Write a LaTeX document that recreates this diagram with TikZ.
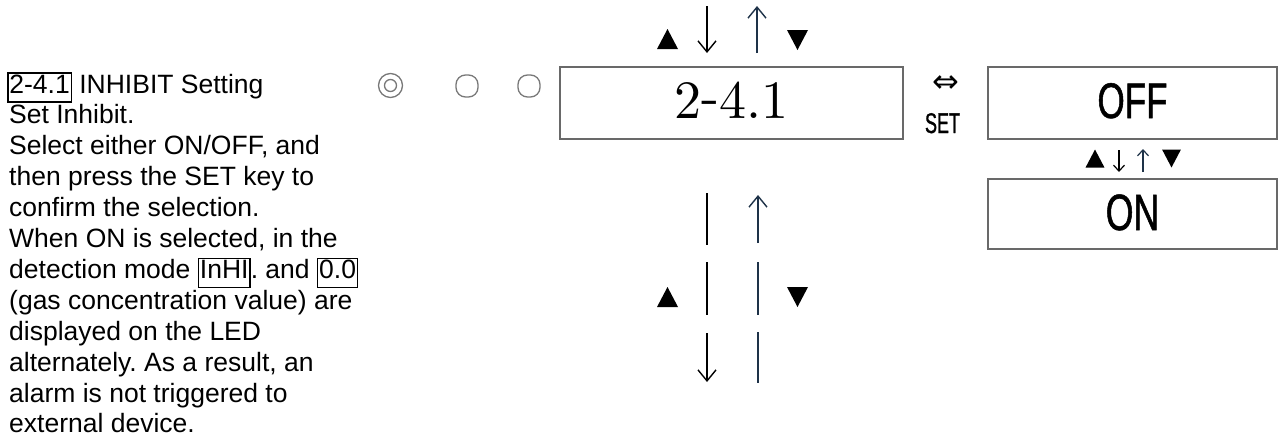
\documentclass[tikz,border=0pt]{standalone}
\usepackage{fontspec}
\usetikzlibrary{arrows.meta}
\newfontfamily\arialf{Liberation Sans}
\newfontfamily\condf[FakeStretch=0.70,FakeBold=1]{Liberation Sans}
\newfontfamily\condsf[FakeStretch=0.63,FakeBold=1]{Liberation Sans}
\newfontfamily\djv{DejaVu Sans}
\newfontfamily\lmten{lmroman10-regular.otf}
\newcommand\bxd[1]{{\setlength\fboxsep{0.8pt}\setlength\fboxrule{1.4pt}\fbox{\rule[-7.5pt]{0pt}{23.5pt}#1}}}
\frenchspacing
\definecolor{boxgray}{RGB}{105,105,105}
\definecolor{lampgray}{RGB}{120,120,120}
\definecolor{upblue}{RGB}{30,50,72}
\tikzset{
  ltext/.style={font=\arialf\fontsize{26.5}{31}\selectfont, inner sep=0pt, anchor=base west},
  disp/.style={draw=boxgray, line width=1.8pt, rectangle, inner sep=0pt},
  lamp/.style={draw=lampgray, line width=1.3pt},
  vline/.style={line width=1.4pt, draw=black},
  uline/.style={line width=1.4pt, draw=upblue},
  downar/.style={vline, -{Straight Barb[length=11pt,width=18pt]}},
  upar/.style={uline, -{Straight Barb[length=11pt,width=18pt]}},
  sdownar/.style={vline, line width=1.2pt, -{Straight Barb[length=6pt,width=11pt]}},
  suparr/.style={uline, line width=1.2pt, -{Straight Barb[length=6pt,width=11pt]}},
  tup/.pic={\fill[black] (-10.5,10) -- (10.5,10) -- (0,-10) -- cycle;},
  tdown/.pic={\fill[black] (-10.5,-10) -- (10.5,-10) -- (0,10) -- cycle;}
}
\begin{document}
\begin{tikzpicture}[x=1pt,y=-1pt]
\useasboundingbox (0,0) rectangle (1285,439);
% left description
\node[ltext] (t1) at (7,93) {\bxd{2-4.1} INHIBIT Setting};
\node[ltext] (t2) at (9,123.9) {Set Inhibit.};
\node[ltext] (t3) at (9,154.8) {Select either ON/OFF, and};
\node[ltext] (t4) at (9,185.7) {then press the SET key to};
\node[ltext] (t5) at (9,216.6) {confirm the selection.};
\node[ltext] (t6) at (9,247.5) {When ON is selected, in the};
\node[ltext] (t7) at (9,278.4) {detection mode \bxd{InHI}. and \bxd{0.0}};
\node[ltext] (t8) at (9,309.3) {(gas concentration value) are};
\node[ltext] (t9) at (9,340.2) {displayed on the LED};
\node[ltext] (t10) at (9,371.1) {alternately. As a result, an};
\node[ltext] (t11) at (9,402) {alarm is not triggered to};
\node[ltext] (t12) at (9,432.9) {external device.};
% lamps
\draw[lamp] (390.5,85.5) circle (12);
\draw[lamp] (390.5,85.5) circle (6);
\draw[lamp, rounded corners=9.5pt] (456,75) rectangle (478,97);
\draw[lamp, rounded corners=9.5pt] (518,75) rectangle (540,97);
% displays
\node[disp, minimum width=343, minimum height=72, text height=35pt, text depth=4pt,
      font=\lmten\fontsize{54}{60}\selectfont] (b1) at (731.5,102.75) {2\raisebox{4pt}{-}4.1};
\node[disp, minimum width=289, minimum height=72, text height=36pt, text depth=6pt,
      font=\condf\fontsize{50}{56}\selectfont] (b2) at (1132.5,103) {OFF};
\node[disp, minimum width=289, minimum height=70, text height=37pt, text depth=5pt,
      font=\condf\fontsize{51}{56}\selectfont] (b3) at (1132.5,214) {ON};
% SET
\node[font=\djv\fontsize{32}{36}\selectfont, inner sep=0pt] (eq) at (945.5,84) {⇔};
\node[font=\condsf\fontsize{28.5}{32}\selectfont, inner sep=0pt, anchor=base] (set) at (942.5,133) {SET};
% top arrows
\pic (u1) at (667.5,39) {tup};
\pic (d1) at (797.5,40) {tdown};
\coordinate (a1s) at (707,6); \coordinate (a1e) at (707,53);
\coordinate (a2s) at (757,53); \coordinate (a2e) at (757,6);
\draw[downar] (a1s) -- (a1e);
\draw[upar] (a2s) -- (a2e);
% small arrows between OFF and ON
\pic[scale=0.9] (u2) at (1095,158.5) {tup};
\pic[scale=0.9] (d2) at (1171.5,158.5) {tdown};
\coordinate (s1s) at (1119,150); \coordinate (s1e) at (1119,172);
\coordinate (s2s) at (1143,172); \coordinate (s2e) at (1143,149);
\draw[sdownar] (s1s) -- (s1e);
\draw[suparr] (s2s) -- (s2e);
% lower arrows
\pic (u3) at (667.5,297) {tup};
\pic (d3) at (797.5,297) {tdown};
\coordinate (l1) at (707,193); \coordinate (l2) at (707,245);
\coordinate (l3) at (707,262); \coordinate (l4) at (707,315);
\coordinate (l5) at (707,333); \coordinate (l6) at (707,382);
\draw[vline] (l1) -- (l2);
\draw[vline] (l3) -- (l4);
\draw[downar] (l5) -- (l6);
\coordinate (r1) at (758,243); \coordinate (r2) at (758,195);
\coordinate (r3) at (758,262); \coordinate (r4) at (758,315);
\coordinate (r5) at (758,332); \coordinate (r6) at (758,383);
\draw[upar] (r1) -- (r2);
\draw[uline] (r3) -- (r4);
\draw[uline] (r5) -- (r6);
\end{tikzpicture}
\end{document}
